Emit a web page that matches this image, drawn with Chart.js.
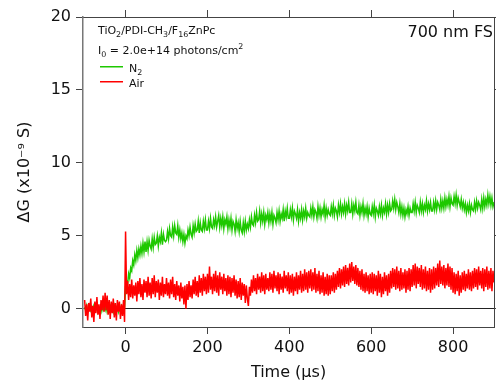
<!DOCTYPE html>
<html><head><meta charset="utf-8">
<script src="https://cdn.jsdelivr.net/npm/chart.js@4/dist/chart.umd.min.js"></script>
<style>html,body{margin:0;padding:0;background:#fff;overflow:hidden}canvas{display:block}</style>
</head><body>
<canvas id="c" width="496" height="382"></canvas>
<script>
// ---- data ----
const times = [
-100,-97.5,-95,-92.5,-90,-87.5,-85,-82.5,-80,-77.5,-75,-72.5,-70,-67.5,-65,-62.5,-60,-57.5,-55,-52.5,
-50,-47.5,-45,-42.5,-40,-37.5,-35,-32.5,-30,-27.5,-25,-22.5,-20,-17.5,-15,-12.5,-10,-7.5,-5,-2.5,
0,2.5,5,7.5,10,12.5,15,17.5,20,22.5,25,27.5,30,32.5,35,37.5,40,42.5,45,47.5,
50,52.5,55,57.5,60,62.5,65,67.5,70,72.5,75,77.5,80,82.5,85,87.5,90,92.5,95,97.5,
100,102.5,105,107.5,110,112.5,115,117.5,120,122.5,125,127.5,130,132.5,135,137.5,140,142.5,145,147.5,
150,152.5,155,157.5,160,162.5,165,167.5,170,172.5,175,177.5,180,182.5,185,187.5,190,192.5,195,197.5,
200,202.5,205,207.5,210,212.5,215,217.5,220,222.5,225,227.5,230,232.5,235,237.5,240,242.5,245,247.5,
250,252.5,255,257.5,260,262.5,265,267.5,270,272.5,275,277.5,280,282.5,285,287.5,290,292.5,295,297.5,
300,302.5,305,307.5,310,312.5,315,317.5,320,322.5,325,327.5,330,332.5,335,337.5,340,342.5,345,347.5,
350,352.5,355,357.5,360,362.5,365,367.5,370,372.5,375,377.5,380,382.5,385,387.5,390,392.5,395,397.5,
400,402.5,405,407.5,410,412.5,415,417.5,420,422.5,425,427.5,430,432.5,435,437.5,440,442.5,445,447.5,
450,452.5,455,457.5,460,462.5,465,467.5,470,472.5,475,477.5,480,482.5,485,487.5,490,492.5,495,497.5,
500,502.5,505,507.5,510,512.5,515,517.5,520,522.5,525,527.5,530,532.5,535,537.5,540,542.5,545,547.5,
550,552.5,555,557.5,560,562.5,565,567.5,570,572.5,575,577.5,580,582.5,585,587.5,590,592.5,595,597.5,
600,602.5,605,607.5,610,612.5,615,617.5,620,622.5,625,627.5,630,632.5,635,637.5,640,642.5,645,647.5,
650,652.5,655,657.5,660,662.5,665,667.5,670,672.5,675,677.5,680,682.5,685,687.5,690,692.5,695,697.5,
700,702.5,705,707.5,710,712.5,715,717.5,720,722.5,725,727.5,730,732.5,735,737.5,740,742.5,745,747.5,
750,752.5,755,757.5,760,762.5,765,767.5,770,772.5,775,777.5,780,782.5,785,787.5,790,792.5,795,797.5,
800,802.5,805,807.5,810,812.5,815,817.5,820,822.5,825,827.5,830,832.5,835,837.5,840,842.5,845,847.5,
850,852.5,855,857.5,860,862.5,865,867.5,870,872.5,875,877.5,880,882.5,885,887.5,890,892.5,895,897.5,
900];
const n2Values = [
0.1,-0.1,0.2,-0.2,0.0,0.2,-0.1,0.1,-0.2,0.2,0.0,-0.1,0.2,-0.2,0.1,0.0,-0.2,0.2,-0.1,0.1,
-0.1,0.2,-0.2,0.1,0.0,0.2,-0.1,0.1,-0.2,0.2,-0.1,0.0,0.2,-0.2,0.1,-0.1,0.2,0.0,-0.2,0.1,
1.5,1.9,1.7,2.4,2.1,2.8,2.6,3.3,3.0,3.7,3.3,4.0,3.5,4.1,3.7,4.3,3.8,4.5,3.9,4.6,
3.9,4.6,4.0,4.7,4.3,4.1,4.8,4.2,4.9,4.4,4.5,5.0,4.3,4.9,4.6,5.2,4.4,5.1,4.7,4.6,
4.7,5.3,4.8,5.5,5.0,4.9,5.6,5.0,5.7,5.2,5.1,5.7,4.9,5.4,4.8,5.2,4.6,5.1,4.5,5.0,
4.8,5.4,5.0,5.6,5.1,4.9,5.7,5.2,5.8,5.3,5.4,6.0,5.2,5.9,5.4,5.3,6.0,5.5,6.1,5.4,
5.4,6.0,5.5,6.2,5.6,5.5,6.1,5.7,6.3,5.6,6.0,6.4,5.6,6.2,5.7,6.3,5.5,6.1,5.8,6.3,
5.5,6.1,5.6,6.2,5.4,6.0,5.8,5.3,6.1,5.5,5.9,5.3,6.0,5.4,5.2,5.9,5.3,6.0,5.4,5.8,
5.5,6.1,5.6,6.3,5.8,5.7,6.4,5.9,6.6,6.0,6.1,6.7,5.9,6.5,6.0,6.6,5.8,6.4,6.1,6.6,
5.9,6.5,6.0,6.6,5.8,6.4,6.2,5.9,6.6,6.1,6.7,6.0,6.5,6.2,6.8,6.0,6.7,6.3,6.9,6.2,
6.2,6.8,6.3,6.9,6.1,6.7,6.5,6.2,6.8,6.0,6.6,6.2,6.8,6.1,6.7,6.3,6.9,6.2,6.6,6.4,
6.3,6.9,6.4,7.0,6.3,6.8,6.6,6.2,7.0,6.4,6.9,6.3,6.8,6.5,7.1,6.3,6.9,6.4,6.8,6.5,
6.4,7.0,6.5,7.1,6.4,6.9,6.7,6.3,7.1,6.6,7.2,6.5,7.0,6.6,7.2,6.5,7.1,6.7,7.3,6.6,
6.6,7.2,6.5,7.1,6.7,7.3,6.6,6.5,7.1,6.4,7.0,6.6,7.2,6.4,6.9,6.5,7.0,6.3,6.9,6.5,
6.4,7.0,6.5,7.1,6.3,6.9,6.7,6.4,7.0,6.5,7.1,6.4,6.9,6.6,7.2,6.5,7.1,6.6,7.2,6.7,
6.8,7.4,6.9,7.5,6.8,7.3,7.0,6.6,7.2,6.5,7.0,6.4,6.9,6.3,6.8,6.5,7.0,6.4,6.9,6.6,
6.6,7.2,6.7,7.3,6.6,7.1,6.9,6.6,7.3,6.7,7.2,6.6,7.1,6.8,7.4,6.7,7.2,6.8,7.3,6.7,
6.7,7.3,6.8,7.4,6.8,7.3,7.1,6.8,7.5,6.9,7.4,6.9,7.6,7.0,7.5,7.1,7.7,7.0,7.6,7.2,
7.1,7.7,7.2,7.8,7.1,7.6,7.3,7.0,7.5,6.9,7.3,6.8,7.2,6.6,7.1,6.7,7.2,6.6,7.1,6.8,
6.7,7.3,6.8,7.4,6.9,7.3,7.1,6.8,7.5,6.9,7.6,7.0,7.5,7.1,7.8,7.2,7.7,7.1,7.6,7.0,
7.3];
const airValues = [
0.6,-0.5,0.3,-0.8,0.4,-0.2,0.7,-0.6,0.2,-0.9,0.5,-0.3,0.8,-0.4,0.3,-0.7,0.6,-0.1,0.9,-0.2,
1.1,-0.1,0.9,-0.4,0.6,-0.7,0.5,-0.3,0.7,-0.6,0.4,-0.8,0.6,-0.2,0.5,-0.7,0.3,-0.5,0.6,-0.9,
5.3,1.0,1.9,0.6,1.7,0.8,2.0,0.7,1.6,0.9,1.8,0.5,1.9,1.0,2.1,0.8,1.7,0.6,2.0,1.1,
1.9,0.8,2.2,0.9,1.8,0.7,2.1,1.0,2.3,0.8,1.9,1.1,2.0,0.6,1.8,0.9,2.2,0.8,1.7,1.0,
2.1,0.9,1.8,0.7,2.0,1.0,2.2,0.8,1.7,0.6,1.9,0.9,1.6,0.5,1.8,0.7,1.5,0.3,1.6,0.0,
1.7,0.6,1.9,0.8,1.6,0.7,2.0,1.0,2.2,0.9,1.9,0.8,2.3,1.1,2.1,0.9,2.4,1.2,2.2,1.0,
2.4,1.1,2.9,1.3,2.2,1.0,2.4,1.2,2.6,1.1,2.3,0.9,2.5,1.3,2.2,1.0,2.4,1.2,2.1,0.9,
2.3,1.0,2.2,0.8,2.1,1.1,2.3,0.9,2.0,0.7,1.9,0.8,2.1,0.6,1.8,0.9,1.7,0.4,1.6,0.7,
0.2,1.5,0.9,2.0,1.1,2.3,1.2,2.1,1.0,2.4,1.3,2.2,1.1,2.5,1.2,2.3,1.0,2.4,1.3,2.1,
1.2,2.5,1.3,2.4,1.1,2.6,1.4,2.3,1.2,2.5,1.0,2.4,1.3,2.2,1.1,2.6,1.4,2.3,1.2,2.5,
1.0,2.3,1.1,2.4,0.9,2.2,1.2,2.5,1.0,2.3,1.3,2.6,1.1,2.4,1.2,2.7,1.3,2.5,1.1,2.6,
1.4,2.7,1.2,2.5,1.3,2.8,1.1,2.4,1.2,2.6,1.0,2.3,1.1,2.5,0.9,2.2,1.0,2.4,0.9,2.3,
1.0,2.3,1.2,2.5,1.1,2.4,1.3,2.6,1.5,2.8,1.4,2.7,1.6,2.9,1.5,3.0,1.7,2.8,1.6,3.1,
1.8,3.2,1.9,2.9,1.7,3.0,1.6,2.8,1.5,2.6,1.3,2.7,1.2,2.4,1.1,2.5,1.2,2.3,1.0,2.4,
1.1,2.5,1.0,2.4,1.2,2.3,0.9,2.6,1.1,2.4,0.8,2.2,1.0,2.5,1.2,2.3,0.9,2.4,1.1,2.6,
1.4,2.8,1.5,2.7,1.3,2.9,1.4,2.6,1.2,2.8,1.3,2.5,1.4,2.7,1.1,2.6,1.3,2.8,1.2,2.7,
1.5,3.0,1.6,3.1,1.4,2.9,1.7,2.8,1.5,3.0,1.3,2.7,1.4,2.9,1.2,2.6,1.3,2.8,1.1,2.7,
1.3,2.9,1.4,2.8,1.6,3.1,1.5,3.3,1.7,2.9,1.6,3.0,1.4,2.8,1.6,3.1,1.5,2.9,1.3,2.8,
1.1,2.5,1.0,2.4,1.2,2.6,0.9,2.3,1.1,2.5,1.3,2.6,1.2,2.4,1.4,2.7,1.3,2.5,1.2,2.6,
1.4,2.8,1.5,2.7,1.3,2.9,1.6,2.6,1.4,2.8,1.2,2.7,1.5,2.9,1.3,2.6,1.4,2.8,1.2,2.6,
1.8];
const xTickValues = [0, 200, 400, 600, 800];
const yTickValues = [0, 5, 10, 15, 20];
const seriesNames = ['Air', 'N2'];
const xTitle = 'Time (\u03bcs)';
const yTitle = '\u0394G (x10\u207b\u2079 S)';
const cornerLabel = '700 nm FS';
// rich text lines: [text, kind] kind 0 normal, -1 subscript, 1 superscript
const sampleLine = [['TiO',0],['2',-1],['/PDI-CH',0],['3',-1],['/F',0],['16',-1],['ZnPc',0]];
const intensityLine = [['I',0],['0',-1],[' = 2.0e+14 photons/cm',0],['2',1]];
const legendN2 = [['N',0],['2',-1]];
const legendAir = [['Air',0]];

// ---- chart ----
const FAM = '"DejaVu Sans", sans-serif';
const AX = '#444';
const GREEN = '#1ec800';
const RED = '#ff0000';
const toPts = vals => times.map((t, i) => ({x: t, y: vals[i]}));
const setX = s => { s.ticks = xTickValues.map(v => ({value: v})); };
const setY = s => { s.ticks = yTickValues.map(v => ({value: v})); };

function rich(c, segs, x, y, size) {
  let cx = x;
  for (const [t, k] of segs) {
    const fs = k === 0 ? size : size * 0.72;
    c.font = fs + 'px ' + FAM;
    const dy = k < 0 ? size * 0.3 : (k > 0 ? -size * 0.45 : 0);
    c.fillText(t, cx, y + dy);
    cx += c.measureText(t).width;
  }
}

const annot = {
  id: 'annot',
  afterDraw(chart) {
    const c = chart.ctx;
    c.save();
    c.textBaseline = 'alphabetic';
    c.textAlign = 'left';
    c.fillStyle = '#111';
    rich(c, sampleLine, 98, 34, 11);
    rich(c, intensityLine, 98, 54, 11);
    rich(c, legendN2, 129, 71.5, 11);
    rich(c, legendAir, 129, 86.5, 11);
    c.fillStyle = GREEN;
    c.fillRect(100, 66, 23, 1.5);
    c.fillStyle = RED;
    c.fillRect(100, 81, 23, 1.5);
    c.fillStyle = '#111';
    c.font = '16px ' + FAM;
    c.textAlign = 'right';
    c.fillText(cornerLabel, 493, 37);
    c.restore();
  }
};

new Chart(document.getElementById('c'), {
  type: 'line',
  data: {
    datasets: [
      {label: seriesNames[0], data: toPts(airValues), borderColor: RED, borderWidth: 1.5, pointRadius: 0, tension: 0, fill: false},
      {label: seriesNames[1], data: toPts(n2Values), borderColor: GREEN, borderWidth: 1.5, pointRadius: 0, tension: 0, fill: false}
    ]
  },
  options: {
    responsive: false, animation: false, devicePixelRatio: 1,
    layout: {padding: 0},
    plugins: {legend: {display: false}, tooltip: {enabled: false}},
    scales: {
      x: {type: 'linear', position: 'bottom', min: -104, max: 900,
        afterBuildTicks: setX, afterFit: s => { s.height = 55; },
        grid: {drawOnChartArea: false, tickLength: 7, color: AX, tickColor: AX},
        border: {color: AX, width: 1},
        ticks: {font: {family: FAM, size: 16}, color: '#111', padding: 4, maxRotation: 0},
        title: {display: true, text: xTitle, font: {family: FAM, size: 16}, color: '#111', padding: {top: 0, bottom: 0}}
      },
      xTop: {type: 'linear', position: 'top', min: -104, max: 900,
        afterBuildTicks: setX, afterFit: s => { s.height = 17; },
        grid: {drawOnChartArea: false, tickLength: 7, color: AX, tickColor: AX},
        border: {color: AX, width: 1},
        ticks: {display: false}
      },
      y: {type: 'linear', position: 'left', min: -1.25, max: 20,
        afterBuildTicks: setY, afterFit: s => { s.width = 83; },
        grid: {drawOnChartArea: true, tickLength: 7, tickColor: AX,
          color: ctx => (ctx.tick && ctx.tick.value === 0) ? '#222' : 'rgba(0,0,0,0)'},
        border: {color: '#777', width: 1.5},
        ticks: {font: {family: FAM, size: 16}, color: '#111', padding: 5},
        title: {display: true, text: yTitle, font: {family: FAM, size: 16}, color: '#111', padding: {top: 15, bottom: 0}}
      },
      yRight: {type: 'linear', position: 'right', min: -1.25, max: 20,
        afterBuildTicks: setY, afterFit: s => { s.width = 2; },
        grid: {drawOnChartArea: false, tickLength: 7, color: AX, tickColor: AX},
        border: {color: AX, width: 1},
        ticks: {display: false}
      }
    }
  },
  plugins: [annot]
});
</script>
</body></html>
